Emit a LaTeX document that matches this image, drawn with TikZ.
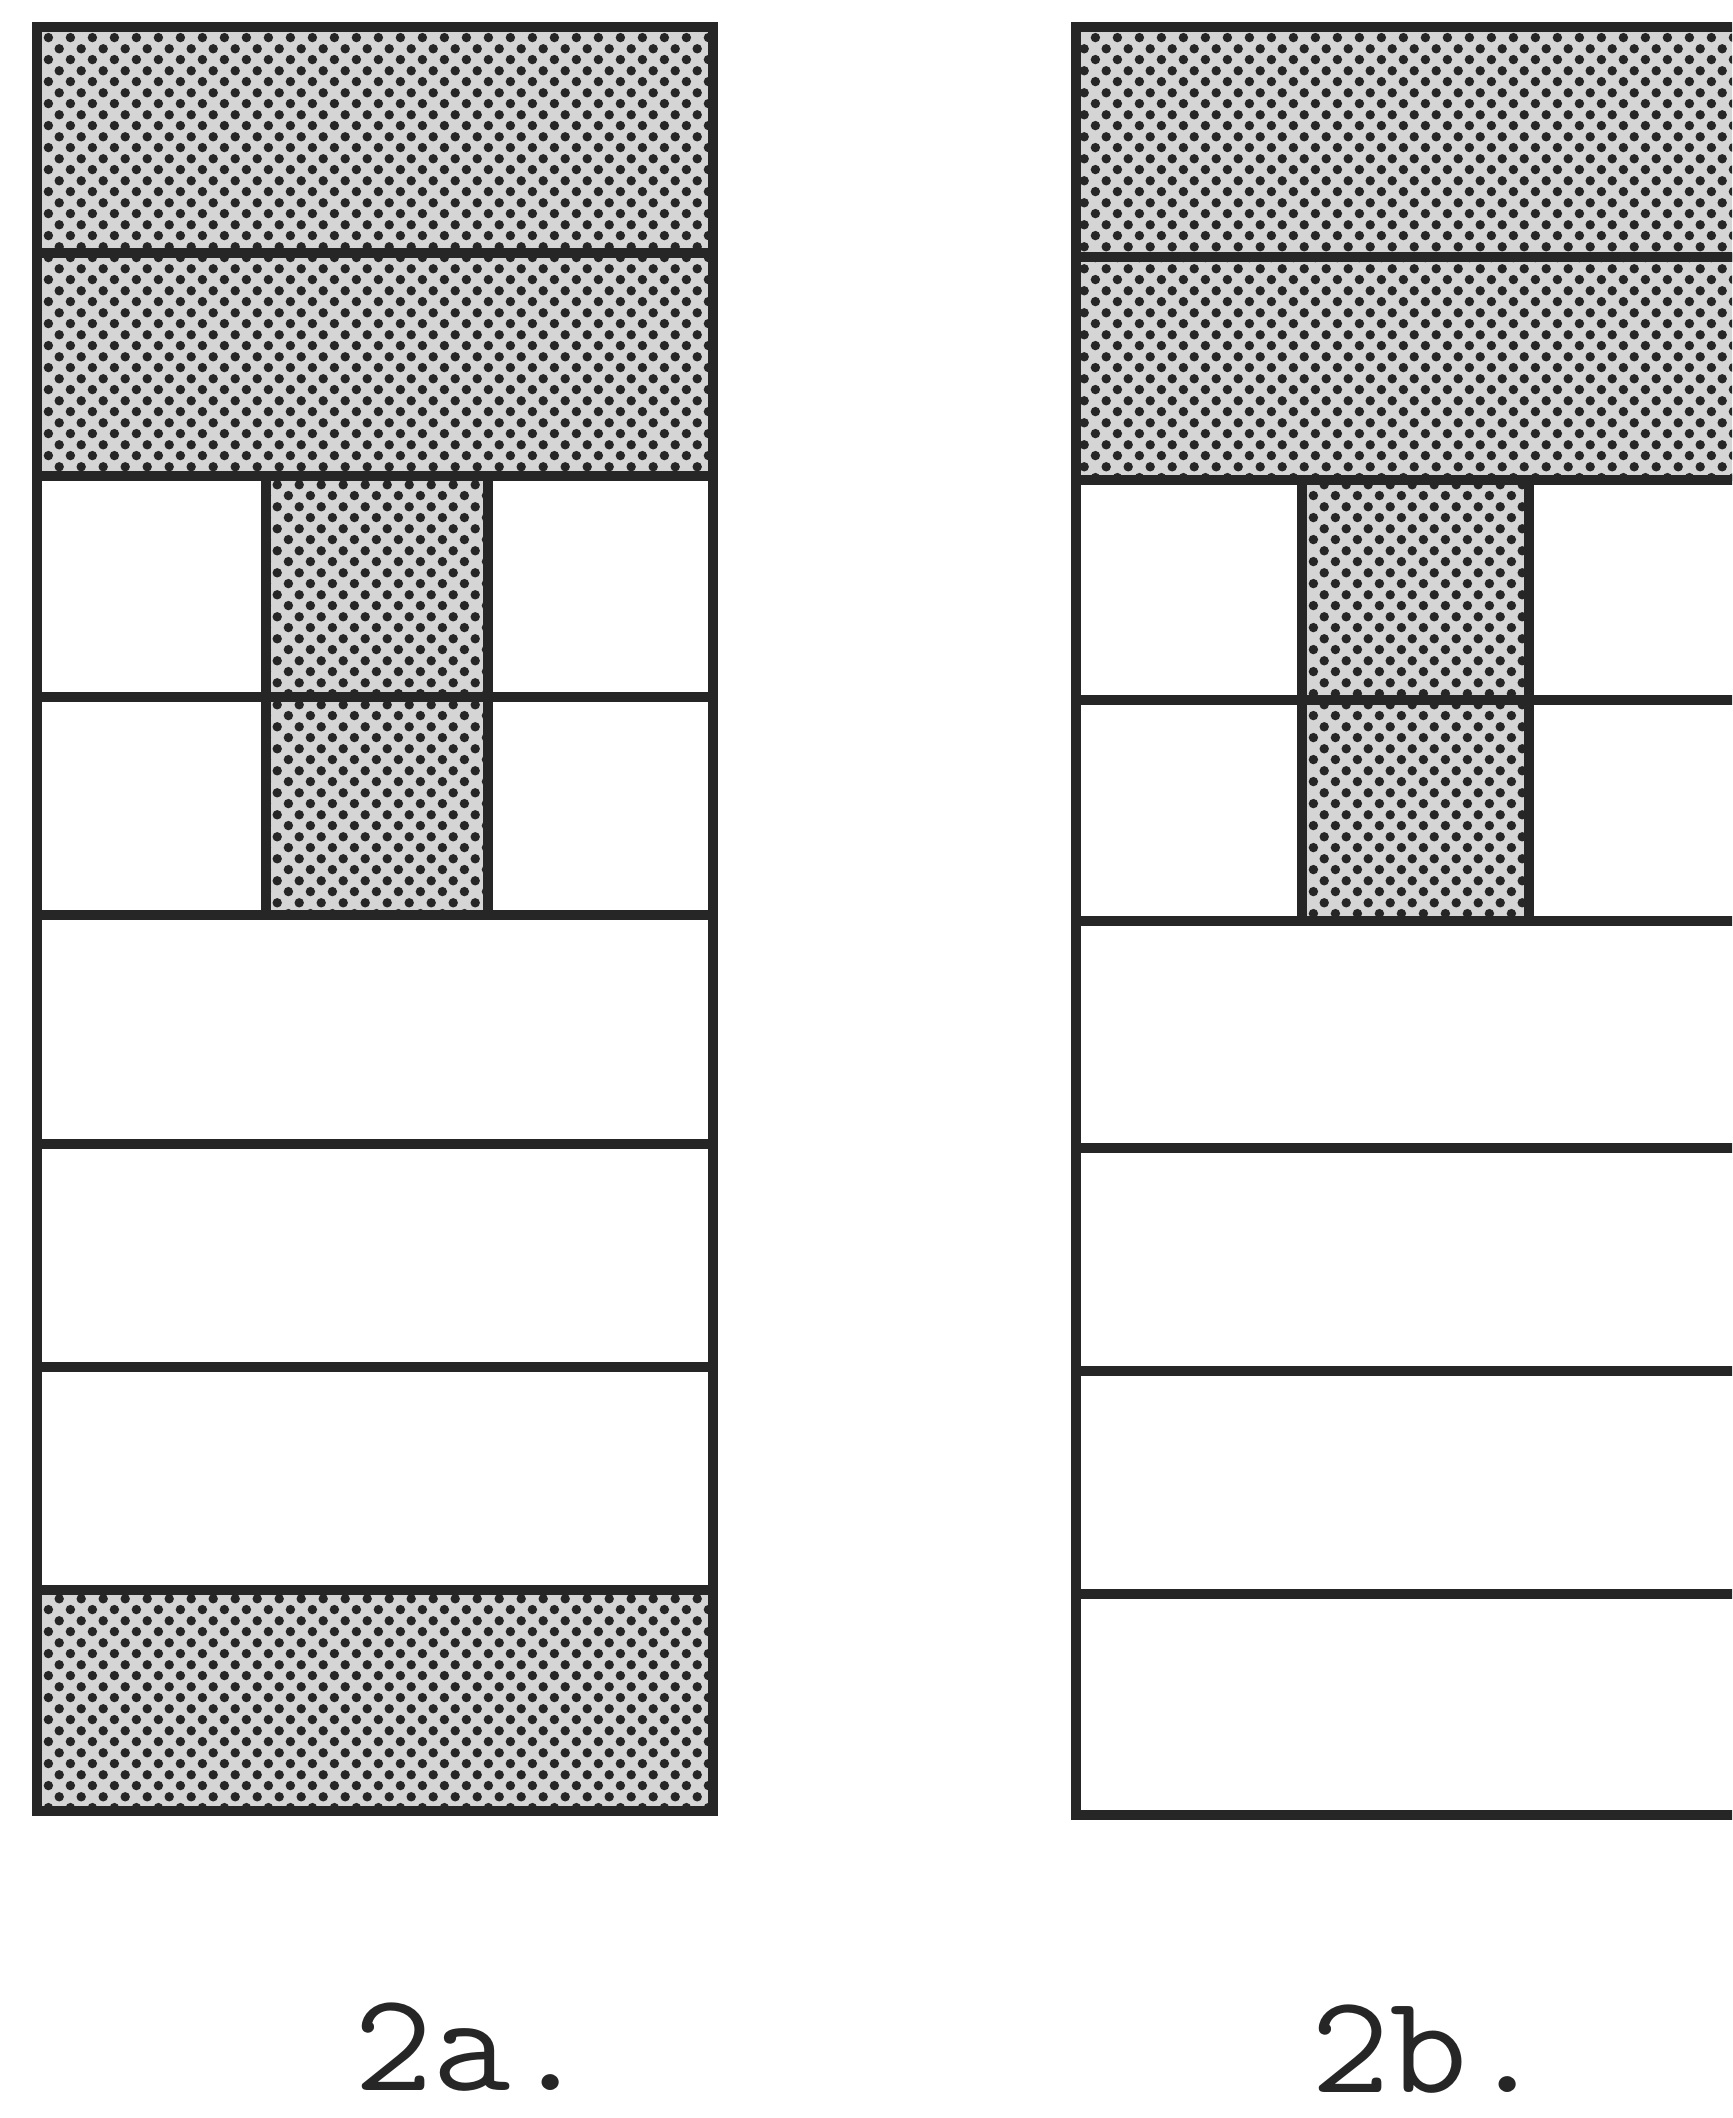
\documentclass[tikz,border=0pt]{standalone}
\usepackage{fontspec}
\usetikzlibrary{patterns}
\pgfdeclarepatternformonly{halftone}{\pgfqpoint{0pt}{0pt}}{\pgfqpoint{6.2pt}{6.2pt}}{\pgfqpoint{6.2pt}{6.2pt}}{%
  \pgfpathcircle{\pgfqpoint{1.55pt}{1.55pt}}{1.35pt}%
  \pgfpathcircle{\pgfqpoint{4.65pt}{4.65pt}}{1.35pt}%
  \pgfusepath{fill}}
\begin{document}
\begin{tikzpicture}[x=0.01cm,y=-0.01cm,
  dotfill/.style={preaction={fill=gray!33}, pattern=halftone, pattern color=black!85},
  panelline/.style={draw=black!85, line width=2.6pt, line join=miter, line cap=rect},
  labeltext/.style={font=\ttfamily\fontsize{40}{40}\selectfont, anchor=base, text=black!85, inner sep=0pt, xscale=1.08}]
\clip (0,0) rectangle (1732,2118);
\fill[white] (0,0) rectangle (1732,2118);

% ---- Panel 2a ----
\fill[dotfill] (37,27) rectangle (713,476);
\fill[dotfill] (266,476) rectangle (488,915);
\fill[dotfill] (37,1590) rectangle (713,1811);
\draw[panelline] (37,27) rectangle (713,1811);
\foreach \y in {253,476,697,915,1144,1367,1590}
  \draw[panelline] (37,\y) -- (713,\y);
\draw[panelline] (266,476) -- (266,915);
\draw[panelline] (488,476) -- (488,915);

% ---- Panel 2b ----
\fill[dotfill] (1076,27) rectangle (1752,480);
\fill[dotfill] (1302,480) rectangle (1529,921);
\draw[panelline] (1076,27) rectangle (1752,1815);
\foreach \y in {257,480,700,921,1148,1371,1594}
  \draw[panelline] (1076,\y) -- (1752,\y);
\draw[panelline] (1302,480) -- (1302,921);
\draw[panelline] (1529,480) -- (1529,921);

% ---- Labels ----
\node[labeltext] (la) at (472,2090) {2a.};
\node[labeltext] (lb) at (1429,2092) {2b.};
\end{tikzpicture}
\end{document}
